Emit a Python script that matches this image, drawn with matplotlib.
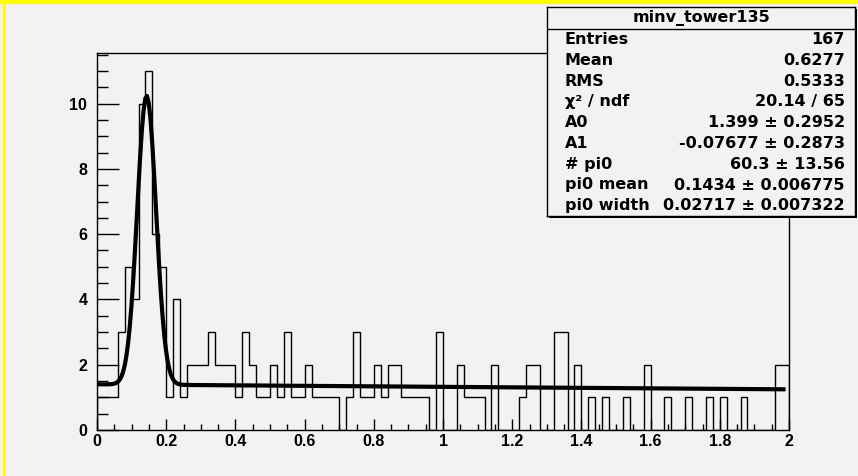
import numpy as np
import matplotlib.pyplot as plt
from matplotlib.patches import Rectangle
from matplotlib.ticker import MultipleLocator, FuncFormatter

# minv_tower135 : 100 bins between 0 and 2
bin_edges = np.linspace(0.0, 2.0, 101)
counts = [1, 1, 1, 3, 5, 4, 10, 11, 6, 5,
          1, 4, 1, 2, 2, 2, 3, 2, 2, 2,
          1, 3, 2, 1, 1, 2, 1, 3, 1, 1,
          2, 1, 1, 1, 1, 0, 1, 3, 1, 1,
          2, 1, 2, 2, 1, 1, 1, 1, 0, 3,
          0, 0, 2, 1, 1, 1, 0, 2, 0, 0,
          0, 1, 2, 2, 0, 0, 3, 3, 0, 2,
          0, 1, 0, 1, 0, 0, 1, 0, 0, 2,
          0, 0, 1, 0, 0, 1, 0, 0, 1, 0,
          1, 0, 0, 1, 0, 0, 0, 0, 2, 2]

# stat box numbers
hist_name = "minv_tower135"
entries = 167
mean = 0.6277
rms = 0.5333
chi2 = 20.14
ndf = 65

# fit parameters: linear background + gaussian pi0 peak
par_names = ["A0", "A1", "# pi0", "pi0 mean", "pi0 width"]
par_values = [1.399, -0.07677, 60.3, 0.1434, 0.02717]
par_errors = [0.2952, 0.2873, 13.56, 0.006775, 0.007322]
norm_width = 0.01


def fit_func(x, a0, a1, npi0, mu, sigma):
    gaus = np.exp(-0.5 * ((x - mu) / sigma) ** 2) / (np.sqrt(2 * np.pi) * sigma)
    return a0 + a1 * x + npi0 * norm_width * gaus


bg = "#f2f2f2"
W, H = 858, 476
fig = plt.figure(figsize=(W / 100, H / 100), dpi=100, facecolor=bg)

# yellow highlight of the active pad
fig.patches.append(Rectangle((3 / W, 0), 3 / W, 1, transform=fig.transFigure,
                             facecolor="#ffff00", edgecolor="none", zorder=0))
fig.patches.append(Rectangle((0, 1 - 4 / H), 1, 4 / H, transform=fig.transFigure,
                             facecolor="#ffff00", edgecolor="none", zorder=0))

ax = fig.add_axes([97 / W, 1 - 430 / H, (789 - 97) / W, (430 - 53) / H])
ax.set_facecolor(bg)
ax.stairs(counts, bin_edges, color="black", linewidth=1.0, baseline=0)

xf = np.linspace(0.0, 1.99, 400)
ax.plot(xf, fit_func(xf, *par_values), color="black", linewidth=3.0,
        solid_capstyle="butt")

ax.set_xlim(0, 2)
ax.set_ylim(0, max(counts) * 1.05)
ax.xaxis.set_major_locator(MultipleLocator(0.2))
ax.xaxis.set_minor_locator(MultipleLocator(0.05))
ax.yaxis.set_major_locator(MultipleLocator(2))
ax.yaxis.set_minor_locator(MultipleLocator(0.5))
fmt = FuncFormatter(lambda v, p: "%g" % round(v, 3))
ax.xaxis.set_major_formatter(fmt)
ax.yaxis.set_major_formatter(fmt)

ax.tick_params(axis="x", which="major", direction="in", length=8, width=1, pad=3)
ax.tick_params(axis="x", which="minor", direction="in", length=4, width=1)
ax.tick_params(axis="y", which="major", direction="in", length=16, width=1, pad=7)
ax.tick_params(axis="y", which="minor", direction="in", length=8, width=1)
for lab in ax.get_xticklabels() + ax.get_yticklabels():
    lab.set_family(["Liberation Sans Narrow", "Liberation Sans"])
    lab.set_fontweight("bold")
    lab.set_fontsize(11.5)
for sp in ax.spines.values():
    sp.set_linewidth(1.0)
    sp.set_color("black")

# stat box with shadow
bx0, bx1, by0, by1 = 547, 855, 7, 216
fig.patches.append(Rectangle(((bx0 + 2) / W, 1 - (by1 + 2) / H), (bx1 - bx0) / W,
                             (by1 - by0) / H, transform=fig.transFigure,
                             facecolor="black", edgecolor="none", zorder=5))
sax = fig.add_axes([bx0 / W, 1 - by1 / H, (bx1 - bx0) / W, (by1 - by0) / H])
sax.set_zorder(6)
sax.set_facecolor(bg)
sax.set_xlim(0, bx1 - bx0)
sax.set_ylim(by1, by0)
sax.set_xticks([])
sax.set_yticks([])
for sp in sax.spines.values():
    sp.set_linewidth(1.0)
    sp.set_color("black")
sax.axhline(29, color="black", linewidth=1.0)

font = dict(family="DejaVu Sans", fontweight="bold", fontsize=11.5)
sax.text((bx1 - bx0) / 2, 18, hist_name, ha="center", va="center", **font)

rows = [("Entries", "%d" % entries),
        ("Mean", "%.4g" % mean),
        ("RMS", "%.4g" % rms),
        ("\u03c7\u00b2 / ndf", "%.4g / %d" % (chi2, ndf))]
for name, v, e in zip(par_names, par_values, par_errors):
    rows.append((name, "%.4g \u00b1 %.4g" % (v, e)))

for k, (name, val) in enumerate(rows):
    y = 29 + 10.4 + 20.8 * k
    sax.text(565 - bx0, y, name, ha="left", va="center", **font)
    sax.text(845 - bx0, y, val, ha="right", va="center", **font)

fig.savefig("out.png", dpi=100, facecolor=bg)
